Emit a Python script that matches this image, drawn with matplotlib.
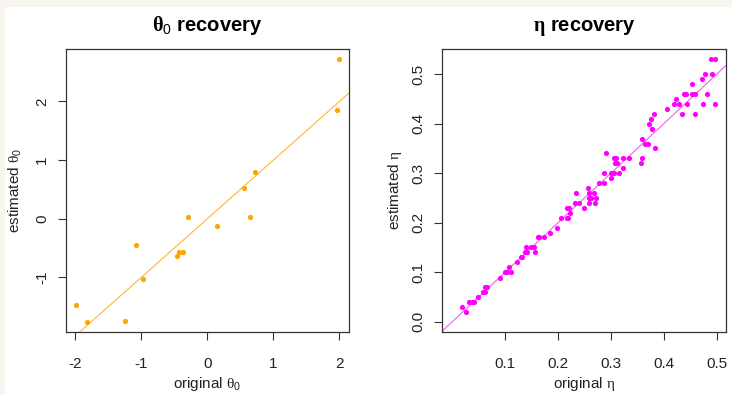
import matplotlib
matplotlib.use("Agg")
import matplotlib.pyplot as plt
from matplotlib.patches import Rectangle

plt.rcParams['font.family'] = ['Liberation Sans', 'DejaVu Sans']
plt.rcParams['mathtext.fontset'] = 'custom'
plt.rcParams['mathtext.rm'] = 'Liberation Sans'
plt.rcParams['mathtext.it'] = 'Liberation Serif'
plt.rcParams['mathtext.bf'] = 'Liberation Serif:bold'
plt.rcParams['axes.unicode_minus'] = False

# theta_0 recovery
theta_orig = [-1.985, -1.824, -1.250, -1.084, -0.974, -0.465, -0.435, -0.370,
              -0.294, 0.143, 0.556, 0.637, 0.717, 1.970, 1.986]
theta_est = [-1.467, -1.757, -1.745, -0.446, -1.027, -0.640, -0.566, -0.566,
             0.024, -0.129, 0.520, 0.024, 0.799, 1.852, 2.717]
theta_ticks = [-2, -1, 0, 1, 2]
theta_yticks = [-1, 0, 1, 2]

# eta recovery
eta_orig = [0.018, 0.025, 0.031, 0.036, 0.041, 0.049, 0.057, 0.061, 0.062, 0.066,
            0.090, 0.100, 0.103, 0.107, 0.110, 0.123, 0.129, 0.132, 0.137, 0.141,
            0.139, 0.149, 0.154, 0.156, 0.161, 0.163, 0.174, 0.185, 0.197, 0.206,
            0.216, 0.218, 0.222, 0.217, 0.220, 0.232, 0.240, 0.234, 0.249, 0.257,
            0.259, 0.267, 0.259, 0.263, 0.271, 0.258, 0.269, 0.277, 0.286, 0.287,
            0.291, 0.300, 0.301, 0.306, 0.315, 0.305, 0.310, 0.308, 0.312, 0.322,
            0.334, 0.322, 0.356, 0.359, 0.359, 0.365, 0.370, 0.373, 0.375, 0.377,
            0.382, 0.384, 0.407, 0.420, 0.429, 0.424, 0.435, 0.439, 0.443, 0.444,
            0.454, 0.454, 0.459, 0.459, 0.472, 0.479, 0.481, 0.474, 0.491, 0.489,
            0.498, 0.497]
eta_est = [0.029, 0.020, 0.039, 0.039, 0.039, 0.050, 0.059, 0.059, 0.070, 0.070,
           0.089, 0.100, 0.100, 0.110, 0.100, 0.120, 0.130, 0.130, 0.140, 0.140,
           0.150, 0.150, 0.150, 0.140, 0.170, 0.170, 0.170, 0.180, 0.190, 0.210,
           0.210, 0.210, 0.220, 0.230, 0.230, 0.240, 0.240, 0.260, 0.230, 0.270,
           0.260, 0.260, 0.250, 0.250, 0.250, 0.240, 0.240, 0.280, 0.280, 0.300,
           0.340, 0.290, 0.300, 0.300, 0.300, 0.330, 0.330, 0.320, 0.320, 0.330,
           0.330, 0.310, 0.320, 0.330, 0.370, 0.360, 0.360, 0.400, 0.410, 0.390,
           0.420, 0.350, 0.430, 0.440, 0.440, 0.450, 0.420, 0.460, 0.460, 0.440,
           0.480, 0.460, 0.460, 0.420, 0.490, 0.500, 0.460, 0.440, 0.500, 0.530,
           0.530, 0.440]
eta_xticks = [0.1, 0.2, 0.3, 0.4, 0.5]
eta_yticks = [0.0, 0.1, 0.2, 0.3, 0.4, 0.5]

W, H = 732, 395
fig = plt.figure(figsize=(W / 100, H / 100), dpi=100, facecolor='#f8f4f0')
# white drawing area inside the thin beige frame
fig.patches.append(Rectangle((5 / W, 0), 1 - 5 / W, 1 - 7 / H, transform=fig.transFigure,
                             facecolor='white', edgecolor='none', zorder=-10))


def style_axes(ax, xticks, yticks, xfmt, yfmt):
    for s in ax.spines.values():
        s.set_color('#333333')
        s.set_linewidth(0.9)
    ax.set_xticks(xticks)
    ax.set_yticks(yticks)
    ax.set_xticklabels([xfmt.format(v) for v in xticks])
    ax.set_yticklabels([yfmt.format(v) for v in yticks], rotation=90, va='center')
    ax.tick_params(axis='both', length=6, width=0.8, color='#333333',
                   labelsize=11, labelcolor='#222222')
    ax.tick_params(axis='x', pad=12)
    ax.tick_params(axis='y', pad=6)


# left panel
ax1 = fig.add_axes([66 / W, 1 - 332 / H, 283 / W, 283 / H])
ax1.axline((0, 0), slope=1, color='orange', lw=0.8, alpha=0.8, zorder=1)
ax1.scatter(theta_orig, theta_est, s=14, color='orange', linewidths=0, zorder=2)
ax1.margins(0.04)
style_axes(ax1, theta_ticks, theta_yticks, '{:d}', '{:d}')
ax1.set_title(r'$\mathbf{\theta}_0$' + ' recovery', fontsize=14.5, fontweight='bold', pad=13)
ax1.set_xlabel(r'original $\theta_0$', fontsize=11, va='baseline', color='#222222')
ax1.xaxis.set_label_coords(0.5, -0.198)
ax1.set_ylabel(r'estimated $\theta_0$', fontsize=11, va='center', color='#222222')
ax1.yaxis.set_label_coords(-0.18, 0.5)

# right panel
ax2 = fig.add_axes([442 / W, 1 - 332 / H, 284 / W, 283 / H])
ax2.axline((0, 0), slope=1, color='#f060f0', lw=0.8, zorder=1)
ax2.scatter(eta_orig, eta_est, s=14, color='magenta', linewidths=0, zorder=2)
ax2.margins(0.04)
style_axes(ax2, eta_xticks, eta_yticks, '{:.1f}', '{:.1f}')
ax2.set_title(r'$\mathbf{\eta}$' + ' recovery', fontsize=14.5, fontweight='bold', pad=13)
ax2.set_xlabel(r'original $\eta$', fontsize=11, va='baseline', color='#222222')
ax2.xaxis.set_label_coords(0.5, -0.198)
ax2.set_ylabel(r'estimated $\eta$', fontsize=11, va='center', color='#222222')
ax2.yaxis.set_label_coords(-0.1655, 0.5)

fig.savefig('out.png', dpi=100, facecolor=fig.get_facecolor())
